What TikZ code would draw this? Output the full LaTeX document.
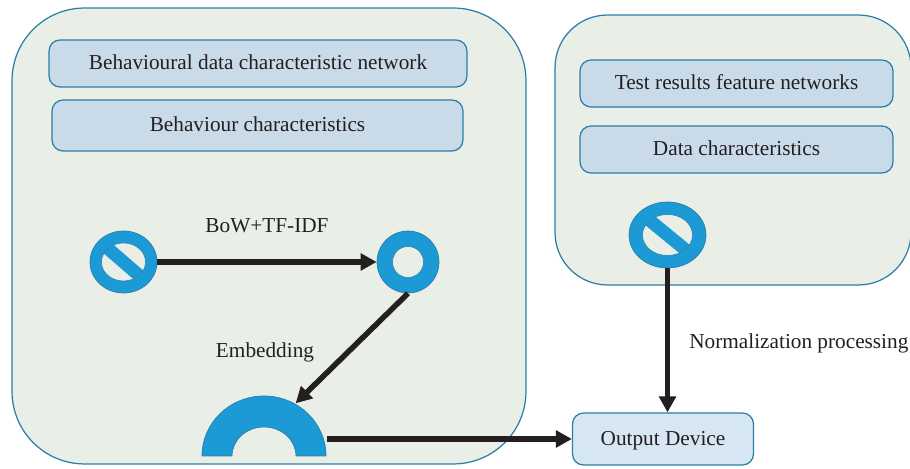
\documentclass[tikz,border=0pt]{standalone}
\usepackage{fontspec}
\setmainfont{Liberation Serif}
\usepackage{tikz}
\usetikzlibrary{calc}
\usetikzlibrary{arrows.meta,shapes.geometric}

\definecolor{panelgreen}{HTML}{E9EEE7}
\definecolor{edgeblue}{HTML}{2A7EA8}
\definecolor{boxblue}{HTML}{C9DBE8}
\definecolor{outblue}{HTML}{D6E6F3}
\definecolor{symblue}{HTML}{1B9AD6}
\definecolor{inkdark}{HTML}{231F20}

\begin{document}
\begin{tikzpicture}[x=0.02cm, y=0.02cm,
		every node/.style={text=inkdark, font=\fontsize{12.1}{14}\selectfont},
		panel/.style={draw=edgeblue, fill=panelgreen, line width=0.7pt, inner sep=0pt},
		textbox/.style={draw=edgeblue, fill=boxblue, line width=0.7pt, rounded corners=0.22cm, inner sep=0pt, text height=9.5pt, text depth=2.3pt},
		banmark/.style={ellipse, draw=edgeblue, fill=symblue, line width=0.4pt, inner sep=0pt},
		banhole/.style={ellipse, draw=edgeblue, fill=panelgreen, line width=0.3pt, inner sep=0pt, path picture={\draw[line width=0.26cm, symblue] (path picture bounding box.north west) -- (path picture bounding box.south east);}},
		flow/.style={line width=0.11cm, inkdark, -{Triangle[length=0.32cm,width=0.33cm]}}]
			\useasboundingbox (0,0) rectangle (910,469);

			\node[panel, rounded corners=1.45cm, minimum width=10.28cm, minimum height=9.12cm] (panelL) at (269,233) {};
			\node[panel, rounded corners=1.05cm, minimum width=7.12cm, minimum height=5.4cm] (panelR) at (733,319) {};

			\node[textbox, minimum width=8.36cm, minimum height=0.94cm] (netL) at (258,405.5) {Behavioural data characteristic network};
			\node[textbox, minimum width=8.22cm, minimum height=1.02cm] (charL) at (257.5,343.5) {Behaviour characteristics};
			\node[textbox, minimum width=6.26cm, minimum height=0.94cm] (netR) at (736.5,385.5) {Test results feature networks};
			\node[textbox, minimum width=6.26cm, minimum height=0.94cm] (charR) at (736.5,319.5) {Data characteristics};
			\node[textbox, fill=outblue, minimum width=3.62cm, minimum height=1.04cm] (output) at (663,30) {Output Device};

			\node[banmark, minimum width=1.34cm, minimum height=1.24cm] (ban1) at (123.5,207) {};
			\node[banhole, minimum width=0.88cm, minimum height=0.76cm] (hole1) at (ban1) {};
			\node[banmark, minimum width=1.54cm, minimum height=1.32cm] (ban2) at (667.5,234) {};
			\node[banhole, minimum width=1cm, minimum height=0.82cm] (hole2) at (ban2) {};

			\node[banmark, minimum width=1.24cm, minimum height=1.24cm] (ring) at (408,207) {};
			\node[ellipse, draw=edgeblue, fill=panelgreen, line width=0.3pt, minimum width=0.62cm, minimum height=0.62cm, inner sep=0pt] (ringhole) at (ring) {};

			\coordinate (arch) at (264,13);
			\coordinate (archin) at ($(arch) + (59:61.5)$);
			\coordinate (archout) at ($(arch) + (63,17)$);
			\draw[edgeblue, fill=symblue, line width=0.4pt] ($(arch) + (-62,0)$) arc[start angle=180, end angle=0, x radius=62, y radius=60] -- ($(arch) + (32,0)$) arc[start angle=0, end angle=180, x radius=32, y radius=29] -- cycle;

			\node (bow) at (267,243) {BoW+TF-IDF};
			\node (embed) at (265,117) {Embedding};
			\node[anchor=west, inner sep=0pt] (norm) at (689,126) {Normalization processing};

			\draw[flow] (ban1) -- (ring);
			\draw[flow] (ring.south) -- (archin);
			\draw[flow] (archout) -- (output.west);
			\draw[flow] (ban2.south) -- (ban2.south |- output.north);
		\end{tikzpicture}
\end{document}
